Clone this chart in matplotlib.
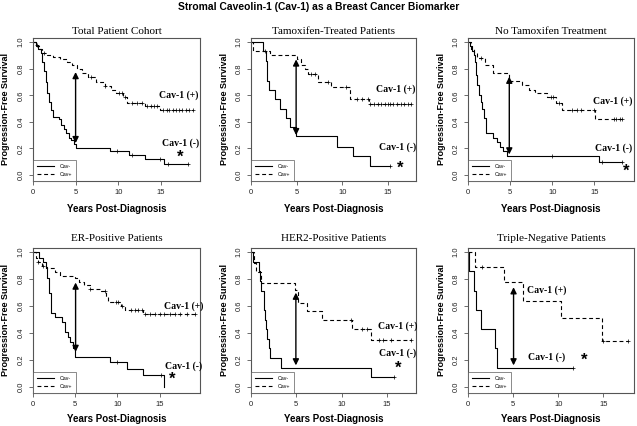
import numpy as np
import matplotlib
matplotlib.use("Agg")
import matplotlib.pyplot as plt

# === Data ===
# each curve: step times, survival after each step, last follow-up, censor times

# Total Patient Cohort
total_neg_t = [0, 0.3, 0.6, 0.9, 1.1, 1.3, 1.5, 1.7, 1.9, 2.1, 2.3, 3.1, 3.3, 3.6, 3.9, 4.2, 4.5, 4.8, 5.0, 9.0, 11.3, 13.1, 15.4]
total_neg_s = [1.0, 0.98, 0.95, 0.92, 0.85, 0.78, 0.70, 0.62, 0.55, 0.49, 0.44, 0.42, 0.38, 0.35, 0.32, 0.28, 0.26, 0.23, 0.20, 0.18, 0.15, 0.12, 0.08]
total_neg_end = 18.2
total_neg_cens = [0.5, 9.9, 11.6, 14.9, 15.8, 18.2]
total_pos_t = [0, 0.3, 0.7, 1.1, 1.7, 2.4, 3.2, 4.0, 4.6, 5.2, 5.8, 6.5, 7.4, 8.4, 9.2, 9.7, 10.6, 11.0, 13.1, 14.9]
total_pos_s = [1.0, 0.97, 0.95, 0.92, 0.90, 0.89, 0.87, 0.85, 0.83, 0.80, 0.77, 0.735, 0.70, 0.67, 0.64, 0.62, 0.59, 0.54, 0.52, 0.49]
total_pos_end = 18.8
total_pos_cens = [1.3, 6.8, 8.5, 10.1, 10.4, 10.8, 11.6, 12.2, 12.8, 13.4, 13.8, 14.2, 14.6, 15.3, 15.7,
                  16.0, 16.4, 16.8, 17.1, 17.5, 17.9, 18.3, 18.8]

# Tamoxifen-Treated Patients
tam_neg_t = [0, 1.35, 1.6, 1.8, 2.0, 2.6, 3.2, 3.8, 4.3, 4.9, 9.4, 11.2, 13.1]
tam_neg_s = [1.0, 0.93, 0.86, 0.71, 0.64, 0.57, 0.50, 0.43, 0.36, 0.29, 0.21, 0.14, 0.07]
tam_neg_end = 15.2
tam_neg_cens = [15.2]
tam_pos_t = [0, 0.2, 2.1, 5.1, 5.5, 5.9, 6.3, 7.4, 8.8, 10.9, 12.9]
tam_pos_s = [1.0, 0.93, 0.90, 0.87, 0.83, 0.80, 0.76, 0.70, 0.66, 0.57, 0.535]
tam_pos_end = 17.6
tam_pos_cens = [1.5, 6.6, 7.0, 8.5, 10.4, 11.6, 12.2, 12.8, 13.1, 13.5, 13.9, 14.3, 14.7, 15.0, 15.2,
                15.6, 16.0, 16.4, 16.8, 17.2, 17.6]

# No Tamoxifen Treatment
notam_neg_t = [0, 0.2, 0.5, 0.7, 0.8, 0.9, 1.1, 1.3, 1.5, 1.7, 1.9, 2.1, 3.0, 3.5, 3.8, 4.1, 4.6, 15.6]
notam_neg_s = [1.0, 0.97, 0.93, 0.90, 0.85, 0.75, 0.68, 0.60, 0.55, 0.50, 0.43, 0.32, 0.28, 0.25, 0.21, 0.18, 0.145, 0.10]
notam_neg_end = 18.3
notam_neg_cens = [10.0, 15.9, 18.3]
notam_pos_t = [0, 0.4, 0.7, 1.1, 2.0, 3.0, 4.9, 6.4, 7.2, 8.0, 9.4, 10.4, 11.2, 15.1]
notam_pos_s = [1.0, 0.95, 0.92, 0.88, 0.83, 0.77, 0.71, 0.68, 0.64, 0.62, 0.59, 0.54, 0.49, 0.42]
notam_pos_end = 18.3
notam_pos_cens = [1.5, 9.8, 10.1, 10.8, 12.3, 12.9, 13.4, 15.0, 17.3, 17.6, 18.0, 18.3]

# ER-Positive Patients
er_neg_t = [0, 0.7, 1.2, 1.5, 1.7, 1.9, 2.1, 2.6, 3.4, 3.8, 4.2, 4.4, 4.7, 5.0, 9.1, 11.2, 13.1, 15.5]
er_neg_s = [1.0, 0.96, 0.93, 0.89, 0.81, 0.70, 0.55, 0.52, 0.48, 0.41, 0.37, 0.33, 0.29, 0.22, 0.185, 0.135, 0.09, 0.0]
er_neg_end = 15.5
er_neg_cens = [10.0, 15.2]
er_pos_t = [0, 0.3, 0.6, 1.1, 1.5, 2.6, 3.2, 5.0, 5.5, 6.0, 6.7, 8.1, 8.7, 8.9, 10.4, 10.9, 13.0]
er_pos_s = [1.0, 0.96, 0.93, 0.90, 0.88, 0.85, 0.82, 0.81, 0.78, 0.76, 0.73, 0.71, 0.67, 0.63, 0.60, 0.57, 0.54]
er_pos_end = 19.2
er_pos_cens = [0.6, 1.2, 6.8, 8.5, 9.8, 10.1, 10.5, 11.6, 12.1, 12.5, 12.9, 13.3, 13.9, 14.5, 15.1, 15.5,
               16.3, 16.8, 17.4, 18.2, 19.2]

# HER2-Positive Patients
her2_neg_t = [0, 0.2, 0.85, 1.0, 1.1, 1.4, 1.5, 1.6, 1.75, 1.95, 2.15, 3.35, 13.2]
her2_neg_s = [1.0, 0.929, 0.857, 0.786, 0.714, 0.571, 0.5, 0.429, 0.357, 0.286, 0.214, 0.143, 0.071]
her2_neg_end = 15.8
her2_neg_cens = [15.8]
her2_pos_t = [0, 0.3, 0.6, 1.05, 4.8, 5.2, 6.2, 7.8, 11.1, 13.2]
her2_pos_s = [1.0, 0.92, 0.85, 0.77, 0.72, 0.62, 0.56, 0.50, 0.43, 0.35]
her2_pos_end = 17.7
her2_pos_cens = [11.0, 12.2, 12.8, 14.1, 14.6, 15.4, 17.7]

# Triple-Negative Patients
tn_neg_t = [0, 0.1, 0.7, 0.9, 1.45, 2.95, 3.2]
tn_neg_s = [1.0, 0.857, 0.714, 0.571, 0.429, 0.286, 0.143]
tn_neg_end = 11.6
tn_neg_cens = [11.6]
tn_pos_t = [0, 0.8, 4.0, 6.1, 10.3, 14.8]
tn_pos_s = [1.0, 0.889, 0.778, 0.635, 0.508, 0.339]
tn_pos_end = 17.7
tn_pos_cens = [1.5, 15.0, 17.7]

titles = ["Total Patient Cohort", "Tamoxifen-Treated Patients", "No Tamoxifen Treatment",
          "ER-Positive Patients", "HER2-Positive Patients", "Triple-Negative Patients"]

curves = [
    ((total_neg_t, total_neg_s, total_neg_end, total_neg_cens), (total_pos_t, total_pos_s, total_pos_end, total_pos_cens)),
    ((tam_neg_t, tam_neg_s, tam_neg_end, tam_neg_cens), (tam_pos_t, tam_pos_s, tam_pos_end, tam_pos_cens)),
    ((notam_neg_t, notam_neg_s, notam_neg_end, notam_neg_cens), (notam_pos_t, notam_pos_s, notam_pos_end, notam_pos_cens)),
    ((er_neg_t, er_neg_s, er_neg_end, er_neg_cens), (er_pos_t, er_pos_s, er_pos_end, er_pos_cens)),
    ((her2_neg_t, her2_neg_s, her2_neg_end, her2_neg_cens), (her2_pos_t, her2_pos_s, her2_pos_end, her2_pos_cens)),
    ((tn_neg_t, tn_neg_s, tn_neg_end, tn_neg_cens), (tn_pos_t, tn_pos_s, tn_pos_end, tn_pos_cens)),
]

# === Layout / annotation settings ===
xmax = [19.6, 18.1, 19.7, 19.8, 18.2, 18.4]
# arrow: (x, bottom, top); labels: (+) xy, (-) xy, star xy
arrows = [(5.0, 0.24, 0.775), (4.95, 0.30, 0.87), (4.9, 0.155, 0.74),
          (5.05, 0.26, 0.775), (4.95, 0.16, 0.70), (5.05, 0.16, 0.74)]
plus_xy = [(17.1, 0.60), (15.9, 0.647), (17.2, 0.555), (17.9, 0.60), (16.2, 0.45), (8.7, 0.715)]
minus_xy = [(17.3, 0.24), (16.1, 0.21), (17.3, 0.205), (17.9, 0.155), (16.2, 0.25), (8.7, 0.22)]
star_xy = [(17.3, 0.13), (16.4, 0.05), (18.8, 0.025), (16.5, 0.06), (16.2, 0.14), (12.9, 0.20)]

W, H = 637, 426
col_px = [(33, 200), (251, 416), (468, 634)]
row_px = [(37.5, 181), (247.5, 393)]
title_pad = [2.5, 4.5]
xlabel_y = [-0.16, -0.145]

SERIF = "Liberation Serif"
SANS = "Liberation Sans"
EDGE = "#555555"


def surv_at(t, s, x):
    idx = np.searchsorted(np.asarray(t), np.asarray(x), side="right") - 1
    return np.asarray(s)[idx]


fig = plt.figure(figsize=(W / 100, H / 100), dpi=100)
fig.text(0.5, 1 - 6.5 / H, "Stromal Caveolin-1 (Cav-1) as a Breast Cancer Biomarker",
         ha="center", va="center", fontsize=7.4, fontweight="bold", family=SANS)

for i in range(6):
    r, c = divmod(i, 3)
    x0, x1 = col_px[c]
    y0, y1 = row_px[r]
    ax = fig.add_axes([x0 / W, 1 - y1 / H, (x1 - x0) / W, (y1 - y0) / H])

    neg, pos = curves[i]
    for (t, s, end, cens), ls, lab in [(neg, "-", "Cav-"), (pos, (0, (3.5, 2.5)), "Cav+")]:
        ax.step(list(t) + [end], list(s) + [s[-1]], where="post", color="k", lw=0.8,
                linestyle=ls, label=lab)
        ax.plot(cens, surv_at(t, s, cens), "+", color="k", ms=3.5, mew=0.5, ls="none")

    ax.annotate("", xy=(arrows[i][0], arrows[i][2]), xytext=(arrows[i][0], arrows[i][1]),
                arrowprops=dict(arrowstyle="<|-|>", color="k", lw=1.0, mutation_scale=9,
                                shrinkA=0, shrinkB=0))
    ax.text(*plus_xy[i], "Cav-1 (+)", ha="center", va="center", fontsize=7,
            fontweight="bold", family=SERIF)
    ax.text(*minus_xy[i], "Cav-1 (-)", ha="center", va="center", fontsize=7,
            fontweight="bold", family=SERIF)
    ax.text(*star_xy[i], "*", ha="center", va="center", fontsize=12, fontweight="bold",
            family=SANS)

    ax.set_xlim(0, xmax[i])
    ax.set_ylim(-0.045, 1.035)
    ax.set_xticks([0, 5, 10, 15])
    ax.set_yticks([0, 0.2, 0.4, 0.6, 0.8, 1.0])
    ax.set_yticklabels(["0.0", "0.2", "0.4", "0.6", "0.8", "1.0"], rotation=90, va="center")
    ax.tick_params(length=3, width=0.6, color=EDGE, labelsize=5.5, pad=3, labelcolor="#222222")
    for lbl in ax.get_xticklabels() + ax.get_yticklabels():
        lbl.set_family(SANS)
    for sp in ax.spines.values():
        sp.set_color(EDGE)
        sp.set_linewidth(0.8)

    ax.set_title(titles[i], fontsize=8, family=SERIF, pad=title_pad[r])
    ax.set_xlabel("Years Post-Diagnosis", fontsize=7, fontweight="bold", family=SANS)
    ax.set_ylabel("Progression-Free Survival", fontsize=6.5, fontweight="bold", family=SANS)
    ax.xaxis.set_label_coords(0.5, xlabel_y[r])
    ax.yaxis.set_label_coords(-0.135, 0.5)

    leg = ax.legend(loc="lower left", borderaxespad=0, fontsize=3.8, handlelength=3.2,
                    frameon=True, fancybox=False, edgecolor=EDGE, borderpad=0.8,
                    labelspacing=0.5, handletextpad=1.0)
    leg.get_frame().set_linewidth(0.6)
    for txt in leg.get_texts():
        txt.set_family(SANS)

fig.savefig("out.png", dpi=100)
